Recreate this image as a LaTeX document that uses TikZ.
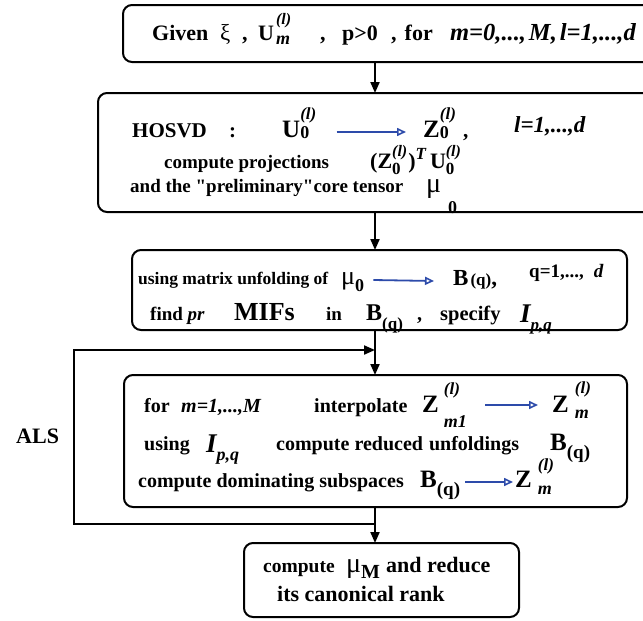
\documentclass[tikz,border=0pt]{standalone}
\usepackage{fontspec}
\setmainfont{Liberation Serif}[Ligatures=TeXOff]
\usetikzlibrary{arrows.meta}
\newcommand\fs[1]{\fontsize{#1}{#1}\selectfont}
\newcommand\SupSub[4]{%
  \setbox0=\hbox{\fs{15}\itshape #1}\setbox2=\hbox{\fs{16}\itshape #2}%
  \ifdim\wd0>\wd2 \wd2=\wd0 \fi\ifdim\wd2>\wd0 \wd0=\wd2 \fi
  \rlap{\raisebox{#3}{\box0}}\raisebox{-#4}{\box2}}
\definecolor{arrblue}{RGB}{45,75,170}
\begin{document}
\begin{tikzpicture}[x=1pt,y=-1pt,
  box/.style={draw, line width=2pt, rounded corners=9pt, inner sep=0pt, outer sep=0pt},
  txt/.style={inner sep=0pt, anchor=base west, font=\bfseries\fs{20}},
  flow/.style={line width=2pt, -{Triangle[length=11pt,width=9pt]}},
  barr/.style={line width=1.8pt, arrblue, -{Triangle[open,length=9pt,width=8pt,line width=1.6pt]}}]
\useasboundingbox (0,0) rectangle (643,621);
\clip (0,0) rectangle (643,621);

% boxes
\node[box, minimum width=535pt, minimum height=57pt] (b1) at (390.5,33.5) {};
\node[box, minimum width=559pt, minimum height=119pt] (b2) at (377.5,152.5) {};
\node[box, minimum width=495pt, minimum height=80pt] (b3) at (379.5,290) {};
\node[box, minimum width=503pt, minimum height=132pt] (b4) at (375.5,441) {};
\node[box, minimum width=275pt, minimum height=74pt] (b5) at (381.5,580) {};

% box 1
\node[txt, font=\bfseries\fs{22}] (g1) at (152,40) {Given};
\node[txt, font=\mdseries\fs{23}] (g2) at (220,40) {ξ};
\node[txt, font=\bfseries\fs{22}] (g3) at (242,40) {,};
\node[txt, font=\bfseries\fs{22}] (g4) at (258,40) {U\hspace{2pt}\SupSub{\fs{16}(l)}{\fs{18}m}{16pt}{5pt}};
\node[txt, font=\bfseries\fs{22}] (g5) at (320,40) {,};
\node[txt, font=\bfseries\fs{22}] (g6) at (342,40) {p>0};
\node[txt, font=\bfseries\fs{22}] (g7) at (391,40) {,\hspace{8pt}for};
\node[txt, anchor=base east, font=\bfseries\itshape\fs{24.5}] (g8) at (636,40) {m=0,...,\hspace{3pt}M,\hspace{3pt}l=1,...,d};

% box 2
\node[txt, font=\bfseries\fs{21}] (h1) at (132,137) {HOSVD};
\node[txt, font=\bfseries\fs{21}] (h2) at (229,137) {:};
\node[txt, font=\bfseries\fs{25}] (h3) at (282,137) {U\SupSub{\fs{17}(l)}{\upshape\fs{18}0}{18pt}{1pt}};
\node[txt, font=\bfseries\fs{25}] (h4) at (423,137) {Z\SupSub{\fs{17}(l)}{\upshape\fs{18}0}{18pt}{1pt}};
\node[txt, font=\bfseries\fs{21}] (h5) at (463,137) {,};
\node[txt, font=\bfseries\itshape\fs{23}] (h6) at (514,132) {l=1,...,d};
\node[txt, font=\bfseries\fs{19}] (h7) at (164,168) {compute projections};
\node[txt, font=\bfseries\fs{22}] (h8) at (370,168) {(Z\SupSub{\fs{16}(l)}{\upshape\fs{17}0}{12pt}{6pt}\hspace{1pt})\raisebox{9pt}{\fs{17}\itshape T}\hspace{4pt}U\SupSub{\fs{16}(l)}{\upshape\fs{17}0}{12pt}{6pt}};
\node[txt, font=\bfseries\fs{19}] (h9) at (130,192) {and the "preliminary"core tensor};
\node[txt, font=\mdseries\fs{28}] (h10) at (426,192) {μ\hspace{7pt}\raisebox{-21pt}{\bfseries\fs{18}0}};

% box 3
\node[txt, font=\bfseries\fs{17.5}] (i1) at (138,284) {using matrix unfolding of};
\node[txt, font=\mdseries\fs{26}] (i2) at (341,284) {μ\raisebox{-7pt}{\bfseries\fs{18}0}};
\node[txt, font=\bfseries\fs{23}] (i3) at (453,285) {B\hspace{2pt}{\fs{17}(q)},};
\node[txt, font=\bfseries\fs{19}] (i4) at (529,277) {q=1,...,\hspace{10pt}\textit{d}};
\node[txt, font=\bfseries\fs{19}] (i5) at (150,320) {find \textit{pr}};
\node[txt, font=\bfseries\fs{26}] (i6) at (234,320) {MIFs};
\node[txt, font=\bfseries\fs{19}] (i7) at (326,320) {in};
\node[txt, font=\bfseries\fs{24}] (i8) at (366,320) {B\raisebox{-9pt}{\fs{17}(q)}};
\node[txt, font=\bfseries\fs{20}] (i9) at (417,320) {,};
\node[txt, font=\bfseries\fs{20.5}] (i10) at (440,320) {specify};
\node[txt, font=\bfseries\itshape\fs{27}] (i11) at (520,322) {I\raisebox{-8pt}{\fs{17}p,q}};

% box 4
\node[txt] (k1) at (144,412) {for};
\node[txt, font=\bfseries\itshape\fs{20}] (k2) at (181,412) {m=1,...,M};
\node[txt] (k3) at (314,412) {interpolate};
\node[txt, font=\bfseries\fs{25}] (k4) at (422,412) {Z\hspace{5pt}\SupSub{\fs{17}(l)}{\fs{18}m1}{18pt}{15pt}};
\node[txt, font=\bfseries\fs{25}] (k5) at (552,412) {Z\hspace{6pt}\SupSub{\fs{17}(l)}{\fs{18}m}{19pt}{6pt}};
\node[txt] (k6) at (144,450) {using};
\node[txt, font=\bfseries\itshape\fs{27}] (k7) at (206,452) {I\raisebox{-8pt}{\fs{18}p,q}};
\node[txt] (k8) at (276,450) {compute reduced\hspace{6pt}unfoldings};
\node[txt, font=\bfseries\fs{25}] (k9) at (550,450) {B\raisebox{-8pt}{\fs{19}(q)}};
\node[txt] (k10) at (138,487) {compute dominating subspaces};
\node[txt, font=\bfseries\fs{25}] (k11) at (420,487) {B\raisebox{-8pt}{\fs{19}(q)}};
\node[txt, font=\bfseries\fs{25}] (k12) at (515,487) {Z\hspace{6pt}\SupSub{\fs{17}(l)}{\fs{18}m}{17pt}{7pt}};

% box 5
\node[txt, font=\bfseries\fs{19.5}] (m1) at (263,572) {compute};
\node[txt, font=\mdseries\fs{28}] (m2) at (346,572) {μ\raisebox{-6pt}{\bfseries\fs{20}M}};
\node[txt, font=\bfseries\fs{22}] (m3) at (386,572) {and reduce};
\node[txt, font=\bfseries\fs{22}] (m4) at (277,601) {its canonical rank};

% ALS
\node[txt, font=\bfseries\fs{22}] (als) at (16,443) {ALS};

% blue arrows inside boxes
\draw[barr] ([shift={(20pt,5pt)}]h3.base east) -- ([shift={(-17pt,5pt)}]h4.base west);
\draw[barr] ([shift={(9pt,4pt)}]i2.base east) -- ([shift={(-19pt,4pt)}]i3.base west);
\draw[barr] ([shift={(18pt,7pt)}]k4.base east) -- ([shift={(-14pt,7pt)}]k5.base west);
\draw[barr] ([shift={(5pt,5pt)}]k11.base east) -- ([shift={(-2pt,5pt)}]k12.base west);

% flow connectors
\coordinate (cx) at (375,0);
\coordinate (jt) at (375,350);
\coordinate (jb) at (375,524);
\coordinate (lt) at (74,350);
\coordinate (lb) at (74,524);
\draw[flow] (b1.south -| cx) -- (b2.north -| cx);
\draw[flow] (b2.south -| cx) -- (b3.north -| cx);
\draw[flow] (b3.south -| cx) -- (b4.north -| cx);
\draw[flow] (b4.south -| cx) -- (b5.north -| cx);
\draw[flow] (jb) -- (lb) -- (lt) -- (jt);
\end{tikzpicture}
\end{document}
